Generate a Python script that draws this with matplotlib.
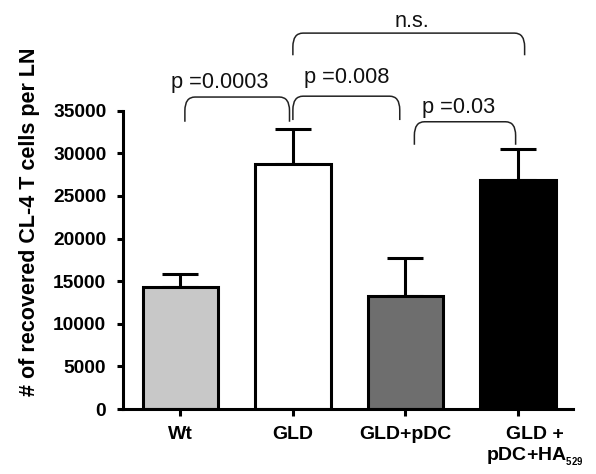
import numpy as np
import matplotlib
matplotlib.use('Agg')
import matplotlib.pyplot as plt
from matplotlib.path import Path
from matplotlib.patches import PathPatch
import matplotlib.transforms as mtransforms

plt.rcParams['font.family'] = ['Liberation Sans', 'DejaVu Sans']
plt.rcParams['mathtext.fontset'] = 'custom'
plt.rcParams['mathtext.default'] = 'regular'

#%% data
groups = ['Wt', 'GLD', 'GLD+pDC', 'GLD +\npDC+HA$_{_{529}}$']
means = [14300, 28700, 13200, 26900]
errs = [1550, 4100, 4550, 3600]
bar_colors = ['#c8c8c8', '#ffffff', '#6e6e6e', '#000000']

# significance brackets: (left x, right x, top y, leg bottom y, text x, text baseline y, label)
brk_left = [0.04, 1.00, 2.08, 1.00]
brk_right = [0.97, 1.95, 2.98, 3.06]
brk_top = [36600, 36700, 33700, 44100]
brk_bottom = [33700, 33900, 31000, 41500]
txt_x = [-0.08, 1.10, 2.15, 1.90]
txt_y = [37650, 38250, 34700, 44850]
brk_labels = ['p =0.0003', 'p =0.008', 'p =0.03', 'n.s.']

#%% figure
fig = plt.figure(figsize=(5.96, 4.74), dpi=100)
ax = fig.add_axes([0.2064, 0.1371, 0.755, 0.6294])

x = np.arange(len(groups))
ax.bar(x, means, width=0.67, color=bar_colors, edgecolor='black', linewidth=2.2, zorder=2)
ax.errorbar(x, means, yerr=[np.zeros(len(errs)), errs], fmt='none', ecolor='black',
            elinewidth=2.2, capsize=13, capthick=2.2, zorder=1)

ax.set_xlim(-0.51, 3.49)
ax.set_ylim(0, 35000)
ax.set_yticks(np.arange(0, 35001, 5000))
ax.set_xticks(x)
ax.set_xticklabels(groups, fontsize=14, fontweight='bold', linespacing=1.2)

for s in ['top', 'right']:
    ax.spines[s].set_visible(False)
for s in ['left', 'bottom']:
    ax.spines[s].set_linewidth(2.2)

ax.tick_params(axis='y', length=4, width=2.2, pad=8, labelsize=13.8)
ax.tick_params(axis='x', length=5, width=2.2, pad=7)
for lab in ax.get_yticklabels():
    lab.set_fontweight('bold')

# last label sits a bit right of its tick
off = mtransforms.ScaledTranslation(0.17, 0, fig.dpi_scale_trans)
last = ax.get_xticklabels()[-1]
last.set_transform(last.get_transform() + off)
last.set_multialignment('center')

ax.set_ylabel('# of recovered CL-4 T cells per LN', fontsize=15.5, fontweight='bold')
ax.yaxis.set_label_coords(-0.185, 0.627)

#%% brackets
rx, ry = 0.09, 1600
for x0, x1, yt, yb, tx, ty, lab in zip(brk_left, brk_right, brk_top, brk_bottom,
                                       txt_x, txt_y, brk_labels):
    verts = [(x0, yb), (x0, yt - ry), (x0, yt), (x0 + rx, yt),
             (x1 - rx, yt), (x1, yt), (x1, yt - ry), (x1, yb)]
    codes = [Path.MOVETO, Path.LINETO, Path.CURVE3, Path.CURVE3,
             Path.LINETO, Path.CURVE3, Path.CURVE3, Path.LINETO]
    ax.add_patch(PathPatch(Path(verts, codes), fill=False, lw=1.1,
                           edgecolor='#222222', clip_on=False))
    ax.text(tx, ty, lab, fontsize=15.7, ha='left', va='baseline',
            color='#111111', clip_on=False)

fig.savefig('out.png', dpi=100)
